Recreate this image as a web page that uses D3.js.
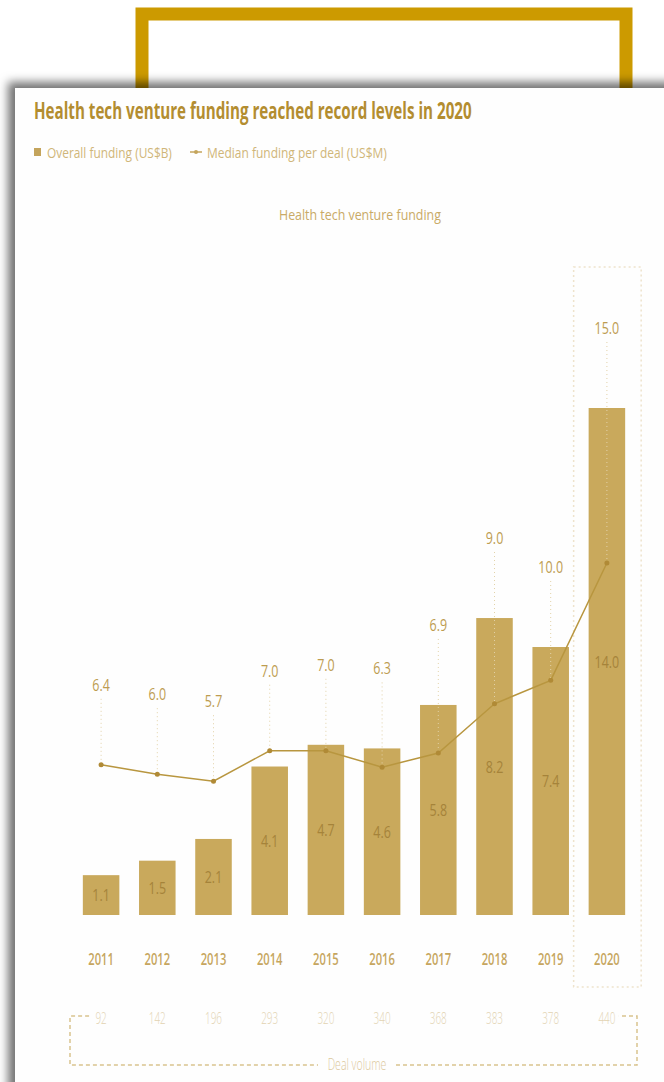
<!DOCTYPE html>
<html>
    <head>
        <meta charset="utf-8">
        <style>
          body { margin: 0; background: #fff; }
          svg { display: block; }
          text { font-family: 'Open Sans', sans-serif; }
        </style>
    </head>
    <body>
        <script src="https://d3js.org/d3.v7.min.js"></script>
        <script>
          const years = ['2011', '2012', '2013', '2014', '2015', '2016', '2017', '2018', '2019', '2020'];
          const overallFunding = [1.1, 1.5, 2.1, 4.1, 4.7, 4.6, 5.8, 8.2, 7.4, 14.0];
          const medianFunding = [6.4, 6.0, 5.7, 7.0, 7.0, 6.3, 6.9, 9.0, 10.0, 15.0];
          const dealVolume = [92, 142, 196, 293, 320, 340, 368, 383, 378, 440];
          const highlightYear = '2020';

          const width = 664;
          const height = 1082;

          const data = years.map((year, i) => ({
            year,
            funding: overallFunding[i],
            median: medianFunding[i],
            deals: dealVolume[i]
          }));

          const svg = d3.select('body').append('svg')
            .attr('width', width)
            .attr('height', height);

          const defs = svg.append('defs');
          const shadow = defs.append('filter')
            .attr('id', 'shadow')
            .attr('x', '-10%').attr('y', '-10%')
            .attr('width', '130%').attr('height', '130%');
          shadow.append('feDropShadow')
            .attr('dx', -7).attr('dy', -6)
            .attr('stdDeviation', 5)
            .attr('flood-color', '#000')
            .attr('flood-opacity', 0.55);

          // gold frame behind the card
          svg.append('rect')
            .attr('x', 142).attr('y', 14)
            .attr('width', 484).attr('height', 200)
            .attr('fill', 'none')
            .attr('stroke', '#cc9a00')
            .attr('stroke-width', 13);

          // card
          svg.append('rect')
            .attr('x', 15).attr('y', 88)
            .attr('width', 720).attr('height', 1060)
            .attr('fill', '#fefefe')
            .attr('filter', 'url(#shadow)');

          // condensed text helper
          function ctext(g, x, y, str, sx) {
            return g.append('text')
              .attr('transform', `translate(${x},${y}) scale(${sx},1)`)
              .text(str);
          }

          // squeeze a text to a given width
          function fitText(g, x, y, str, w) {
            const t = g.append('text').text(str);
            const len = t.node().getComputedTextLength();
            t.attr('transform', `translate(${x},${y}) scale(${w / len},1)`);
            return t;
          }

          // title + legend
          const title = svg.append('g')
            .attr('font-size', 24)
            .attr('font-weight', 700)
            .attr('fill', '#b38d30');
          fitText(title, 34, 119, 'Health tech venture funding reached record levels in 2020', 438);

          const legend = svg.append('g')
            .attr('fill', '#d0b679')
            .attr('font-size', 14);
          legend.append('rect')
            .attr('x', 34).attr('y', 148)
            .attr('width', 7).attr('height', 8)
            .attr('fill', '#c4a45c');
          fitText(legend, 47, 158, 'Overall funding (US$B)', 125);
          legend.append('line')
            .attr('x1', 190).attr('x2', 202)
            .attr('y1', 152).attr('y2', 152)
            .attr('stroke', '#c4a45c').attr('stroke-width', 1.5);
          legend.append('circle')
            .attr('cx', 196).attr('cy', 152).attr('r', 2)
            .attr('fill', '#c4a45c');
          fitText(legend, 207, 158, 'Median funding per deal (US$M)', 180);

          const sub = svg.append('g')
            .attr('font-size', 15)
            .attr('fill', '#c9aa66');
          fitText(sub, 279, 220, 'Health tech venture funding', 162);

          // scales
          const xScale = d3.scaleBand()
            .domain(years)
            .range([73, 635])
            .paddingInner(0.35)
            .paddingOuter(0.175);

          const yBar = d3.scaleLinear()
            .domain([0, 14])
            .range([915, 408]);

          const yLine = d3.scaleLinear()
            .domain([0, 15])
            .range([915, 563]);

          const cx = d => xScale(d.year) + xScale.bandwidth() / 2;

          // highlight box around 2020
          svg.append('rect')
            .attr('x', xScale(highlightYear) - 15)
            .attr('y', 267)
            .attr('width', xScale.bandwidth() + 31)
            .attr('height', 720)
            .attr('fill', 'none')
            .attr('stroke', '#eee3cc')
            .attr('stroke-width', 1.5)
            .attr('stroke-dasharray', '2,3');

          // bars
          svg.append('g')
            .selectAll('rect')
            .data(data)
            .join('rect')
            .attr('x', d => xScale(d.year))
            .attr('y', d => yBar(d.funding))
            .attr('width', xScale.bandwidth())
            .attr('height', d => yBar(0) - yBar(d.funding))
            .attr('fill', '#c9a95c');

          // bar value labels
          const barLabels = svg.append('g')
            .attr('font-size', 16)
            .attr('fill', '#a5833a')
            .attr('text-anchor', 'middle');
          data.forEach(d => {
            ctext(barLabels, cx(d), (yBar(d.funding) + yBar(0)) / 2 + 6, d.funding.toFixed(1), 0.78);
          });

          // median labels + dotted leaders
          const labelY = d => Math.min(yBar(d.funding), yLine(d.median)) - 80;

          svg.append('g')
            .selectAll('line')
            .data(data)
            .join('line')
            .attr('x1', cx).attr('x2', cx)
            .attr('y1', d => labelY(d) + 14)
            .attr('y2', d => yLine(d.median))
            .attr('stroke', '#e2d2a8')
            .attr('stroke-width', 1)
            .attr('stroke-dasharray', '1,3');

          const medLabels = svg.append('g')
            .attr('font-size', 16)
            .attr('fill', '#bd9c50')
            .attr('text-anchor', 'middle');
          data.forEach(d => {
            ctext(medLabels, cx(d), labelY(d) + 6, d.median.toFixed(1), 0.78);
          });

          // median line
          const line = d3.line()
            .x(cx)
            .y(d => yLine(d.median));

          svg.append('path')
            .datum(data)
            .attr('d', line)
            .attr('fill', 'none')
            .attr('stroke', '#b8963f')
            .attr('stroke-width', 1.5);

          svg.append('g')
            .selectAll('circle')
            .data(data)
            .join('circle')
            .attr('cx', cx)
            .attr('cy', d => yLine(d.median))
            .attr('r', 2.5)
            .attr('fill', '#b08a36');

          // year axis
          const yearAxis = svg.append('g')
            .attr('font-size', 16)
            .attr('font-weight', 600)
            .attr('fill', '#c6a65f')
            .attr('text-anchor', 'middle');
          data.forEach(d => {
            ctext(yearAxis, cx(d), 965, d.year, 0.7);
          });

          // deal volume row
          const dealRow = svg.append('g')
            .attr('font-size', 16)
            .attr('font-weight', 300)
            .attr('fill', '#e2d3b2')
            .attr('text-anchor', 'middle');
          data.forEach(d => {
            ctext(dealRow, cx(d), 1024, d.deals, 0.62);
          });

          // deal volume bracket
          const bx0 = 70, bx1 = 637, bTop = 1016, bBot = 1065;
          const first = xScale(years[0]) + xScale.bandwidth() / 2;
          const last = xScale(years[years.length - 1]) + xScale.bandwidth() / 2;
          const bracket = svg.append('g')
            .attr('fill', 'none')
            .attr('stroke', '#d9c38f')
            .attr('stroke-width', 1.5)
            .attr('stroke-dasharray', '4,3');
          bracket.append('path')
            .attr('d', `M${first - 12},${bTop}H${bx0}V${bBot}H${318}`);
          bracket.append('path')
            .attr('d', `M${396},${bBot}H${bx1}V${bTop}H${last + 12}`);

          ctext(svg.append('g')
              .attr('font-size', 16)
              .attr('font-weight', 300)
              .attr('fill', '#dcc89b')
              .attr('text-anchor', 'middle'),
            357, 1070, 'Deal volume', 0.66);
        </script>
    </body>
</html>
